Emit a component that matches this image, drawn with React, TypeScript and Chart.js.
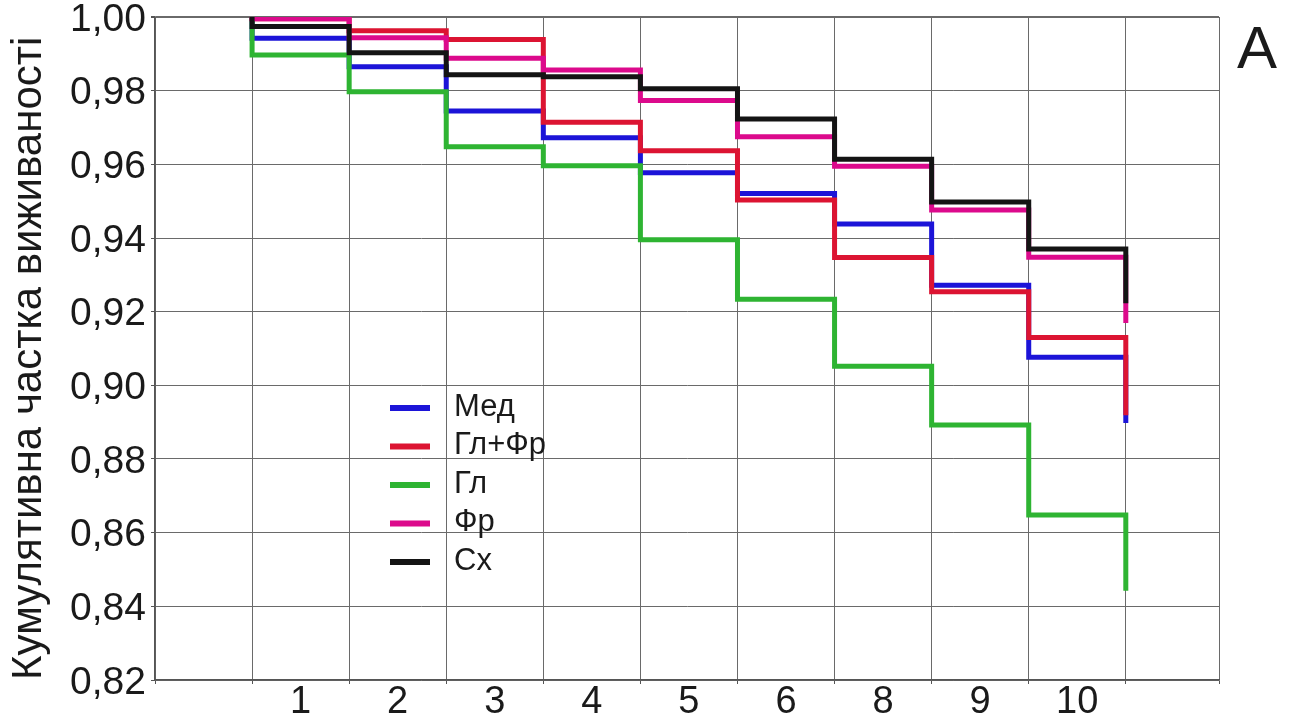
import React, { useEffect, useRef } from 'react';
import { Chart, registerables } from 'chart.js';

Chart.register(...registerables);

// ---- data ----
const stepTimes = [1, 2, 3, 4, 5, 6, 7, 8, 9, 10];
const startSurvival = 1.0;

const seriesNames = ['Мед', 'Гл+Фр', 'Гл', 'Фр', 'Сх'];
const medValues = [0.9942, 0.9865, 0.9745, 0.9672, 0.9577, 0.9521, 0.9438, 0.9272, 0.9076, 0.8898];
const glFrValues = [0.9995, 0.9963, 0.9939, 0.9714, 0.9637, 0.9503, 0.9347, 0.9254, 0.913, 0.8919];
const glValues = [0.9897, 0.9797, 0.9648, 0.9596, 0.9395, 0.9234, 0.9052, 0.8892, 0.8648, 0.8442];
const frValues = [0.9995, 0.9944, 0.9888, 0.9856, 0.9773, 0.9675, 0.9595, 0.9476, 0.9348, 0.9169];
const sxValues = [0.9974, 0.9903, 0.9843, 0.9838, 0.9805, 0.9723, 0.9614, 0.9498, 0.937, 0.9223];

const seriesColors = ['#1c14d8', '#dc1432', '#2eb432', '#dc0a8c', '#141414'];
const seriesOrder = [4, 3, 2, 1, 0];

const yTickValues = [0.82, 0.84, 0.86, 0.88, 0.9, 0.92, 0.94, 0.96, 0.98, 1.0];
const xMin = 0;
const xMax = 10.96;
const xGridValues = [0, 1, 2, 3, 4, 5, 6, 7, 8, 9, 10, 10.96];
const xTickLabels = ['', '1', '2', '3', '4', '5', '6', '8', '9', '10', '', ''];

const yAxisTitle = 'Кумулятивна частка виживаності';
const panelLabel = 'A';

const FONT = '"Liberation Sans", Arial, Helvetica, sans-serif';

function buildSteps(values: number[]) {
  return [
    { x: stepTimes[0], y: startSurvival },
    ...stepTimes.map((t, i) => ({ x: t, y: values[i] })),
  ];
}

const overlayPlugin = {
  id: 'overlayLegend',
  afterDraw(chart: any) {
    const ctx = chart.ctx as CanvasRenderingContext2D;
    const area = chart.chartArea;
    ctx.save();
    const x0 = area.left + 235;
    const y0 = area.top + 391;
    const dy = 38.5;
    chart.data.datasets.forEach((ds: any, i: number) => {
      const y = y0 + i * dy;
      ctx.strokeStyle = ds.borderColor;
      ctx.lineWidth = 6;
      ctx.lineCap = 'butt';
      ctx.beginPath();
      ctx.moveTo(x0, y);
      ctx.lineTo(x0 + 40, y);
      ctx.stroke();
      ctx.fillStyle = '#1a1a1a';
      ctx.font = `31px ${FONT}`;
      ctx.textBaseline = 'middle';
      ctx.textAlign = 'left';
      ctx.fillText(ds.label, x0 + 64, y - 1);
    });
    ctx.fillStyle = '#1a1a1a';
    ctx.font = `60px ${FONT}`;
    ctx.textBaseline = 'alphabetic';
    ctx.textAlign = 'left';
    ctx.fillText(panelLabel, area.right + 18, 68);
    ctx.restore();
  },
};

export default function App() {
  const canvasRef = useRef<HTMLCanvasElement | null>(null);

  useEffect(() => {
    if (!canvasRef.current) return;
    const allValues = [medValues, glFrValues, glValues, frValues, sxValues];
    const chart = new Chart(canvasRef.current, {
      type: 'line',
      data: {
        datasets: seriesNames.map((name, i) => ({
          label: name,
          data: buildSteps(allValues[i]),
          borderColor: seriesColors[i],
          backgroundColor: seriesColors[i],
          borderWidth: 5,
          stepped: true,
          pointRadius: 0,
          fill: false,
          order: seriesOrder[i],
          borderCapStyle: 'butt',
          borderJoinStyle: 'miter',
        })),
      },
      options: {
        animation: false,
        responsive: true,
        maintainAspectRatio: false,
        layout: { padding: { top: 17, right: 74, left: 0, bottom: 0 } },
        plugins: {
          legend: { display: false },
          tooltip: { enabled: false },
        },
        scales: {
          x: {
            type: 'linear',
            min: xMin,
            max: xMax,
            afterBuildTicks: (scale: any) => {
              scale.ticks = xGridValues.map((v) => ({ value: v }));
            },
            afterFit: (scale: any) => {
              scale.height = 39;
              scale.paddingLeft = 0;
              scale.paddingRight = 0;
            },
            border: { display: true, color: '#555', width: 1.5 },
            grid: {
              color: '#6a6a6a',
              lineWidth: 1,
              drawTicks: true,
              tickLength: 4,
              tickColor: '#555',
            },
            ticks: {
              autoSkip: false,
              maxRotation: 0,
              minRotation: 0,
              padding: 0,
              labelOffset: 48.5,
              color: '#1a1a1a',
              font: { family: FONT, size: 38, lineHeight: 1.0 },
              callback: (_value: any, index: number) => xTickLabels[index] ?? '',
            },
          },
          y: {
            type: 'linear',
            min: 0.82,
            max: 1.0,
            afterBuildTicks: (scale: any) => {
              scale.ticks = yTickValues.map((v) => ({ value: v }));
            },
            afterFit: (scale: any) => {
              scale.width = 155;
              scale.paddingTop = 0;
              scale.paddingBottom = 0;
            },
            border: { display: true, color: '#555', width: 1.5 },
            grid: {
              color: '#6a6a6a',
              lineWidth: (c: any) => (c.tick && c.tick.value === 1 ? 2 : 1),
              drawTicks: true,
              tickLength: 4,
              tickColor: '#555',
            },
            ticks: {
              padding: 5,
              labelOffset: 3,
              color: '#1a1a1a',
              font: { family: FONT, size: 39, lineHeight: 1.0 },
              callback: (value: any) => Number(value).toFixed(2).replace('.', ','),
            },
            title: {
              display: true,
              text: yAxisTitle,
              align: 'start',
              color: '#1a1a1a',
              font: { family: FONT, size: 42, lineHeight: 1.0 },
              padding: { top: 8, bottom: 0 },
            },
          },
        },
      },
      plugins: [overlayPlugin],
    } as any);
    return () => chart.destroy();
  }, []);

  return (
    <div style={{ position: 'fixed', left: 0, top: 0, width: 1293, height: 719, background: '#fff' }}>
      <canvas ref={canvasRef} />
    </div>
  );
}
